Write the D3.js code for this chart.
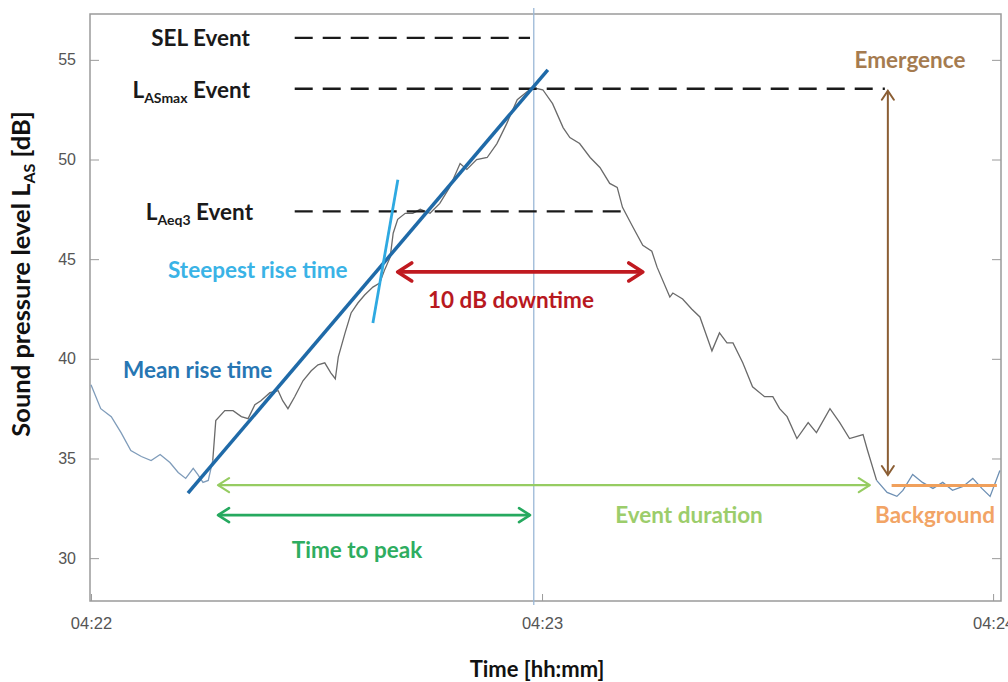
<!DOCTYPE html>
<html>
<head>
<meta charset="utf-8">
<script src="https://cdn.jsdelivr.net/npm/d3@7"></script>
<style>
body{margin:0;background:#fff;}
</style>
</head>
<body>
<div id="plot" class="canvas" style="width:1008px;height:682px"></div>
<script>
// sound level trace: seconds after 04:22:00 and L_AS in dB
var times = [0,1.3,2.7,4,5.3,6.7,8,9.2,10.5,11.6,12.6,13.6,14.2,14.9,15.6,16.2,16.6,17.8,18.9,20,20.9,21.8,22.6,23.8,24.9,25.5,26.2,27.1,28.2,29.3,30.2,31.1,31.9,32.5,32.9,33.8,34.6,35.5,36.4,37.5,38.4,39.1,39.8,40.2,40.8,41.8,42.8,43.8,45.1,46.4,47.7,49.1,50,51.3,52.7,54,55.3,56.7,58,58.8,60.1,61.4,62.8,63.7,65,66.4,67.7,69,70,70.7,72.1,73.4,74.6,75.3,77,77.4,78.7,79.9,81,82.6,83.6,84.6,85.4,86.7,88,89.6,90.7,91.6,92.6,93.9,95.4,96.5,98.3,99.6,100.9,102.7,103.3,104.5,105.9,107.2,108,109.3,110.6,112,113.3,114.6,116,117.3,118.5,119.6,120.9];
var levels = [38.7,37.5,37.1,36.3,35.4,35.1,34.9,35.2,34.8,34.3,34,34.5,34.2,33.8,33.9,34.9,36.9,37.4,37.4,37.1,37,37.7,37.9,38.3,38.4,37.9,37.5,38.1,38.9,39.4,39.7,39.8,39.3,39,40.1,41.3,42.3,42.8,43.2,43.6,43.8,44.5,45.1,46.3,47,47.3,47.3,47.5,47.3,47.8,48.6,49.8,49.5,50,50.1,50.8,51.8,53,53.4,53.6,53.5,52.8,51.6,51.1,50.8,50.1,49.6,48.8,48.6,47.6,46.6,45.7,45.4,44.6,43.1,43.3,43,42.5,42.1,40.4,41.3,40.8,40.8,39.8,38.6,38.1,38.1,37.5,37.1,36,36.8,36.3,37.5,36.8,36,36.2,35.4,33.9,33.3,33.1,33.4,34.2,33.8,33.5,33.8,33.4,33.6,34,33.5,33.1,34.4];
var eventStart = 16.2, eventEnd = 104.5;

var yTicks = [30,35,40,45,50,55];
var xTicks = [0,60,120];
var xTickLabels = ['04:22','04:23','04:24'];

// event descriptors
var peakTime = 58.9;
var selLevel = 56.1, lasmaxLevel = 53.55, laeq3Level = 47.4, backgroundLevel = 33.65;
var meanRise = [[12.9,33.26],[60.77,54.5]];
var steepRise = [[37.5,41.8],[40.82,48.98]];
var downtime = {level:44.36, from:40.8, to:73.4};
var eventDuration = {level:33.66, from:16.9, to:103.6};
var timeToPeak = {level:32.16, from:16.9, to:58.4};
var emergence = {time:106.0, from:34.17, to:53.45};
var background = {from:106.5, to:120.5};

var margin = {t:14,r:7,b:81,l:90};
var width = 1008-margin.l-margin.r,
	height = 682-margin.t-margin.b;

var svg = d3.select('.canvas')
	.append('svg')
	.attr('width',1008)
	.attr('height',682);

var plot = svg.append('g')
	.attr('transform','translate('+margin.l+','+margin.t+')');

var x = d3.scaleLinear().domain([-0.13,121.05]).range([0,width]);
var y = d3.scaleLinear().domain([27.85,57.3]).range([height,0]);

var labelFont = 'Lato, "Open Sans", sans-serif';
var tickFont = '"Liberation Sans", Arial, sans-serif';

//frame and ticks, matlab style
plot.append('rect')
	.attr('width',width).attr('height',height)
	.style('fill','none').style('stroke','#9a9a9a').style('stroke-width',1.5);

plot.append('g').call(d3.axisLeft(y).tickValues(yTicks).tickSize(-9).tickPadding(14))
	.call(function(g){
		g.select('.domain').remove();
		g.selectAll('line').style('stroke','#9a9a9a');
		g.selectAll('text').style('font-family',tickFont).style('font-size','16px').style('fill','#555');
	});
plot.append('g').attr('transform','translate('+width+',0)')
	.call(d3.axisRight(y).tickValues(yTicks).tickSize(-9).tickFormat(''))
	.call(function(g){
		g.select('.domain').remove();
		g.selectAll('line').style('stroke','#9a9a9a');
	});
plot.append('g').attr('transform','translate(0,'+height+')')
	.call(d3.axisBottom(x).tickValues(xTicks).tickSize(-7).tickPadding(16)
		.tickFormat(function(d,i){return xTickLabels[i];}))
	.call(function(g){
		g.select('.domain').remove();
		g.selectAll('line').style('stroke','#9a9a9a');
		g.selectAll('text').style('font-family',tickFont).style('font-size','16.5px').style('fill','#555');
	});

//peak time marker
plot.append('line')
	.attr('x1',x(peakTime)).attr('x2',x(peakTime))
	.attr('y1',-6).attr('y2',height+4)
	.style('stroke','#9bb8d6').style('stroke-width',1.3);

//trace, grey during the event, blue-grey outside
var pts = times.map(function(t,i){return [t,levels[i]];});
var line = d3.line().x(function(d){return x(d[0]);}).y(function(d){return y(d[1]);});
var before = pts.filter(function(d){return d[0]<=eventStart;});
var during = pts.filter(function(d){return d[0]>=eventStart && d[0]<=eventEnd;});
var after = pts.filter(function(d){return d[0]>=eventEnd;});
[[before,'#7f9cba'],[during,'#6a6a6a'],[after,'#6d8fb3']].forEach(function(s){
	plot.append('path').attr('d',line(s[0]))
		.style('fill','none').style('stroke',s[1]).style('stroke-width',1.3);
});

//dashed descriptor levels
[[selLevel,58.4],[lasmaxLevel,105.6],[laeq3Level,71.3]].forEach(function(l){
	plot.append('line')
		.attr('x1',x(27.1)).attr('x2',x(l[1]))
		.attr('y1',y(l[0])).attr('y2',y(l[0]))
		.style('stroke','#1a1a1a').style('stroke-width',2.4).style('stroke-dasharray','18,10');
});

//rise lines
plot.append('path').attr('d',line(meanRise))
	.style('stroke','#1f6aa8').style('stroke-width',3.5);
plot.append('path').attr('d',line(steepRise))
	.style('stroke','#2ea9e1').style('stroke-width',2.8);

function head(px,py,dx,dy,len,w){
	return 'M'+(px-dx*len+dy*w)+','+(py-dy*len-dx*w)+'L'+px+','+py+'L'+(px-dx*len-dy*w)+','+(py-dy*len+dx*w);
}
function hArrow(a,color,sw,len,w){
	var yy = y(a.level), x1 = x(a.from), x2 = x(a.to);
	plot.append('line').attr('x1',x1).attr('x2',x2).attr('y1',yy).attr('y2',yy)
		.style('stroke',color).style('stroke-width',sw);
	plot.append('path').attr('d',head(x1,yy,-1,0,len,w)+head(x2,yy,1,0,len,w))
		.style('fill','none').style('stroke',color).style('stroke-width',sw)
		.style('stroke-linecap','round').style('stroke-linejoin','round');
}
hArrow(downtime,'#c01a20',3.6,14,9);
hArrow(eventDuration,'#96cc62',2.2,11,7);
hArrow(timeToPeak,'#26a95f',2.6,11,7);

//emergence arrow
var ex = x(emergence.time);
plot.append('line').attr('x1',ex).attr('x2',ex).attr('y1',y(emergence.to)).attr('y2',y(emergence.from))
	.style('stroke','#8b5e34').style('stroke-width',2);
plot.append('path').attr('d',head(ex,y(emergence.to),0,-1,9,6)+head(ex,y(emergence.from),0,1,9,6))
	.style('fill','none').style('stroke','#8b5e34').style('stroke-width',2).style('stroke-linecap','round');

//background level
plot.append('line').attr('x1',x(background.from)).attr('x2',x(background.to))
	.attr('y1',y(backgroundLevel)).attr('y2',y(backgroundLevel))
	.style('stroke','#f0a05c').style('stroke-width',3);

//labels
var fs = '22.5px', subFs = '14px';
function label(txt,px,py,color,anchor){
	return svg.append('text').attr('x',px).attr('y',py)
		.attr('text-anchor',anchor||'start')
		.style('font-family',labelFont).style('font-weight',700).style('font-size',fs)
		.style('fill',color).text(txt);
}
label('SEL Event',250,46,'#1a1a1a','end');
function subLabel(main,sub,rest,px,py){
	var t = svg.append('text').attr('x',px).attr('y',py).attr('text-anchor','end')
		.style('font-family',labelFont).style('font-weight',700).style('font-size',fs).style('fill','#1a1a1a');
	t.append('tspan').text(main);
	t.append('tspan').attr('dy',5).style('font-size',subFs).text(sub);
	t.append('tspan').attr('dy',-5).text(rest);
}
subLabel('L','ASmax',' Event',250,98);
subLabel('L','Aeq3',' Event',253,220);
label('Steepest rise time',168,278,'#3ab3e6');
label('Mean rise time',123,378,'#2776b3');
label('10 dB downtime',511,308,'#b8191f','middle');
label('Emergence',910,68,'#a57b4f','middle');
label('Event duration',689,523,'#9ccd6b','middle');
label('Background',935,523,'#f2a465','middle');
label('Time to peak',357,558,'#2ead60','middle');

svg.append('text').attr('x',537).attr('y',677).attr('text-anchor','middle')
	.style('font-family',labelFont).style('font-weight',700).style('font-size','22px').style('fill','#111')
	.text('Time [hh:mm]');

var yl = svg.append('text').attr('transform','translate(30,274) rotate(-90)').attr('text-anchor','middle')
	.style('font-family',labelFont).style('font-weight',700).style('font-size','25.5px').style('fill','#111');
yl.append('tspan').text('Sound pressure level L');
yl.append('tspan').attr('dy',5).style('font-size','16px').text('AS');
yl.append('tspan').attr('dy',-5).text(' [dB]');
</script>
</body>
</html>
